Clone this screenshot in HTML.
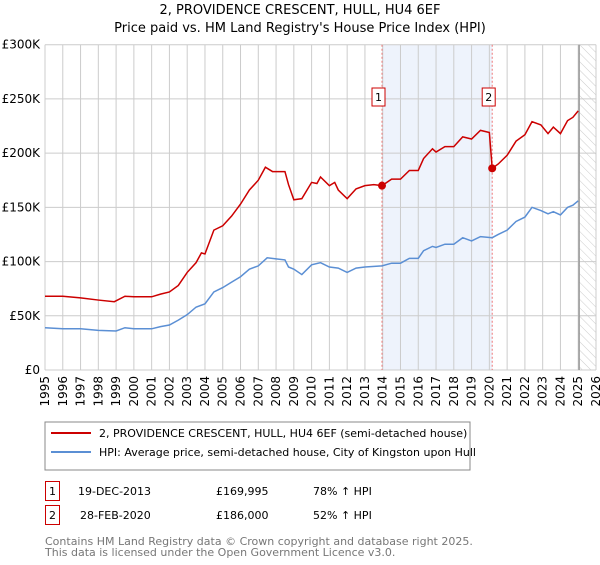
<!DOCTYPE html>
<html><head><meta charset="utf-8"><style>
body{margin:0;background:#fff;font-family:"Liberation Sans","DejaVu Sans",sans-serif;}
svg text{font-family:"DejaVu Sans","Liberation Sans",sans-serif;}
</style></head><body>
<svg id="c" width="600" height="560" viewBox="0 0 600 560" xmlns="http://www.w3.org/2000/svg">
<defs><pattern id="hatch" width="6" height="6" patternUnits="userSpaceOnUse" patternTransform="rotate(-45)"><line x1="0" y1="0" x2="0" y2="6" stroke="#ccc" stroke-width="1"/></pattern></defs>
<text x="300" y="14" text-anchor="middle" font-size="13" fill="#000">2, PROVIDENCE CRESCENT, HULL, HU4 6EF</text>
<text x="300" y="32" text-anchor="middle" font-size="13" fill="#000">Price paid vs. HM Land Registry's House Price Index (HPI)</text>
<g id="plot"></g>
<rect x="45" y="422" width="425" height="48" fill="#fff" stroke="#888"/>
<line x1="51" y1="433" x2="91" y2="433" stroke="#cc0000" stroke-width="2"/>
<text x="99" y="437" font-size="11">2, PROVIDENCE CRESCENT, HULL, HU4 6EF (semi-detached house)</text>
<line x1="51" y1="452" x2="91" y2="452" stroke="#5b8fd4" stroke-width="2"/>
<text x="99" y="456" font-size="11">HPI: Average price, semi-detached house, City of Kingston upon Hull</text>
<g>
<rect x="45.5" y="481.5" width="14" height="19" fill="#fff" stroke="#cc0000"/>
<text x="52.5" y="495" font-size="11" text-anchor="middle">1</text>
<text x="78" y="495" font-size="11">19-DEC-2013</text>
<text x="216" y="495" font-size="11">£169,995</text>
<text x="313" y="495" font-size="11">78% ↑ HPI</text></g>
<g>
<rect x="45.5" y="505.5" width="14" height="19" fill="#fff" stroke="#cc0000"/>
<text x="52.5" y="519" font-size="11" text-anchor="middle">2</text>
<text x="80" y="519" font-size="11">28-FEB-2020</text>
<text x="216" y="519" font-size="11">£186,000</text>
<text x="313" y="519" font-size="11">52% ↑ HPI</text></g>
<text x="45" y="545" font-size="11" fill="#777">Contains HM Land Registry data © Crown copyright and database right 2025.</text>
<text x="45" y="556" font-size="11" fill="#777">This data is licensed under the Open Government Licence v3.0.</text>
</svg>
<script>
const yTicks=[0,50000,100000,150000,200000,250000,300000];
const yTickLabels=["£0","£50K","£100K","£150K","£200K","£250K","£300K"];
const years=[1995,1996,1997,1998,1999,2000,2001,2002,2003,2004,2005,2006,2007,2008,2009,2010,2011,2012,2013,2014,2015,2016,2017,2018,2019,2020,2021,2022,2023,2024,2025,2026];
const redT=[1995,1996,1997,1998,1998.9,1999.5,2000,2001,2001.5,2002,2002.5,2003,2003.5,2003.8,2004,2004.5,2005,2005.5,2006,2006.5,2007,2007.4,2007.8,2008,2008.5,2008.7,2009,2009.45,2010,2010.3,2010.5,2011,2011.3,2011.5,2012,2012.5,2013,2013.5,2013.96,2014.5,2015,2015.5,2016,2016.3,2016.8,2017,2017.5,2018,2018.5,2019,2019.5,2020.0,2020.16,2020.5,2021,2021.5,2022,2022.4,2022.9,2023.3,2023.6,2024.0,2024.4,2024.7,2025.0];
const redV=[68000,68000,66500,64500,63000,68000,67500,67500,70000,72000,78000,90000,99000,108000,107000,129000,133000,142000,153000,166000,175000,187000,183000,183000,183000,171000,157000,158000,173000,172000,178000,170000,173000,166000,158000,167000,170000,171000,169995,176000,176000,184000,184000,195000,204000,201000,206000,206000,215000,213000,221000,219000,186000,190000,198000,211000,217000,229000,226000,218000,224000,218000,230000,233000,239000];
const blueT=[1995,1996,1997,1998,1999,1999.5,2000,2001,2001.5,2002,2002.5,2003,2003.5,2004,2004.5,2005,2005.5,2006,2006.5,2007,2007.5,2008,2008.5,2008.7,2009,2009.45,2010,2010.5,2011,2011.5,2012,2012.5,2013,2013.96,2014.5,2015,2015.5,2016,2016.3,2016.8,2017,2017.5,2018,2018.5,2019,2019.5,2020.16,2020.5,2021,2021.5,2022,2022.4,2022.9,2023.3,2023.6,2024.0,2024.4,2024.7,2025.0];
const blueV=[39000,38000,38000,36500,36000,39000,38000,38000,40000,41500,46000,51000,58000,61000,72000,76000,81000,86000,93000,96000,103500,102500,101500,95000,93000,88000,97000,99000,95000,94000,90000,94000,95000,96000,98500,98500,103000,103000,110000,114000,113000,116000,116000,122000,119000,123000,122000,125000,129000,137000,141000,150000,147000,144000,146000,143000,150000,152000,156000];
const saleT=[2013.96,2020.16];
const saleV=[169995,186000];
const saleLabels=["1","2"];
const dataEnd=2025.05;

const X0=45,X1=596,Y0=370,Y1=44.7;
const xs=t=>X0+(t-1995)/(2026-1995)*(X1-X0);
const ys=v=>Y0-v/300000*(Y0-Y1);
const NS="http://www.w3.org/2000/svg";
const g=document.getElementById('plot');
function mk(tag,attrs,parent){const e=document.createElementNS(NS,tag);for(const k in attrs)e.setAttribute(k,attrs[k]);(parent||g).appendChild(e);return e;}

let r=mk('rect',{x:xs(saleT[0]),y:Y1,width:xs(saleT[1])-xs(saleT[0]),height:Y0-Y1,fill:'#eef3fc'});


let h=mk('rect',{x:xs(dataEnd),y:Y1,width:X1-xs(dataEnd),height:Y0-Y1,fill:'url(#hatch)'});



years.forEach(yr=>{
 const l=mk('line',{x1:xs(yr),x2:xs(yr),y1:Y1,y2:Y0,stroke:'#ccc','stroke-width':1});
 
 
 const t=mk('text',{x:0,y:0,'font-size':12,'text-anchor':'end',transform:`translate(${xs(yr)+4},${Y0+6}) rotate(-90)`});
 t.textContent=yr;
 
 
});
yTicks.forEach((v,i)=>{
 const l=mk('line',{x1:X0,x2:X1,y1:ys(v),y2:ys(v),stroke:'#ccc','stroke-width':1});
 
 
 const t=mk('text',{x:40,y:ys(v)+4,'font-size':12,'text-anchor':'end'});
 t.textContent=yTickLabels[i];
 
 
});
let el=mk('line',{x1:xs(dataEnd),x2:xs(dataEnd),y1:Y1,y2:Y0,stroke:'#999','stroke-width':1.5});



saleT.forEach((t,i)=>{
 const l=mk('line',{x1:xs(t),x2:xs(t),y1:Y1,y2:Y0,stroke:'#e77','stroke-width':1,'stroke-dasharray':'2,2'});
 
 
});

const pb=mk('polyline',{points:blueT.map((t,i)=>xs(t)+','+ys(blueV[i])).join(' '),fill:'none',stroke:'#5b8fd4','stroke-width':1.5});


const pr=mk('polyline',{points:redT.map((t,i)=>xs(t)+','+ys(redV[i])).join(' '),fill:'none',stroke:'#cc0000','stroke-width':1.5});



saleT.forEach((t,i)=>{
 const c=mk('circle',{cx:xs(t),cy:ys(saleV[i]),r:4,fill:'#cc0000'});
 
 
 const bx=mk('rect',{x:xs(t)-10,y:88,width:13,height:18,fill:'#fff',stroke:'#cc0000'});
 
 
 const tx=mk('text',{x:xs(t)-3.5,y:101,'font-size':11,'text-anchor':'middle'});
 tx.textContent=saleLabels[i];
 
 
});
</script>
</body></html>
